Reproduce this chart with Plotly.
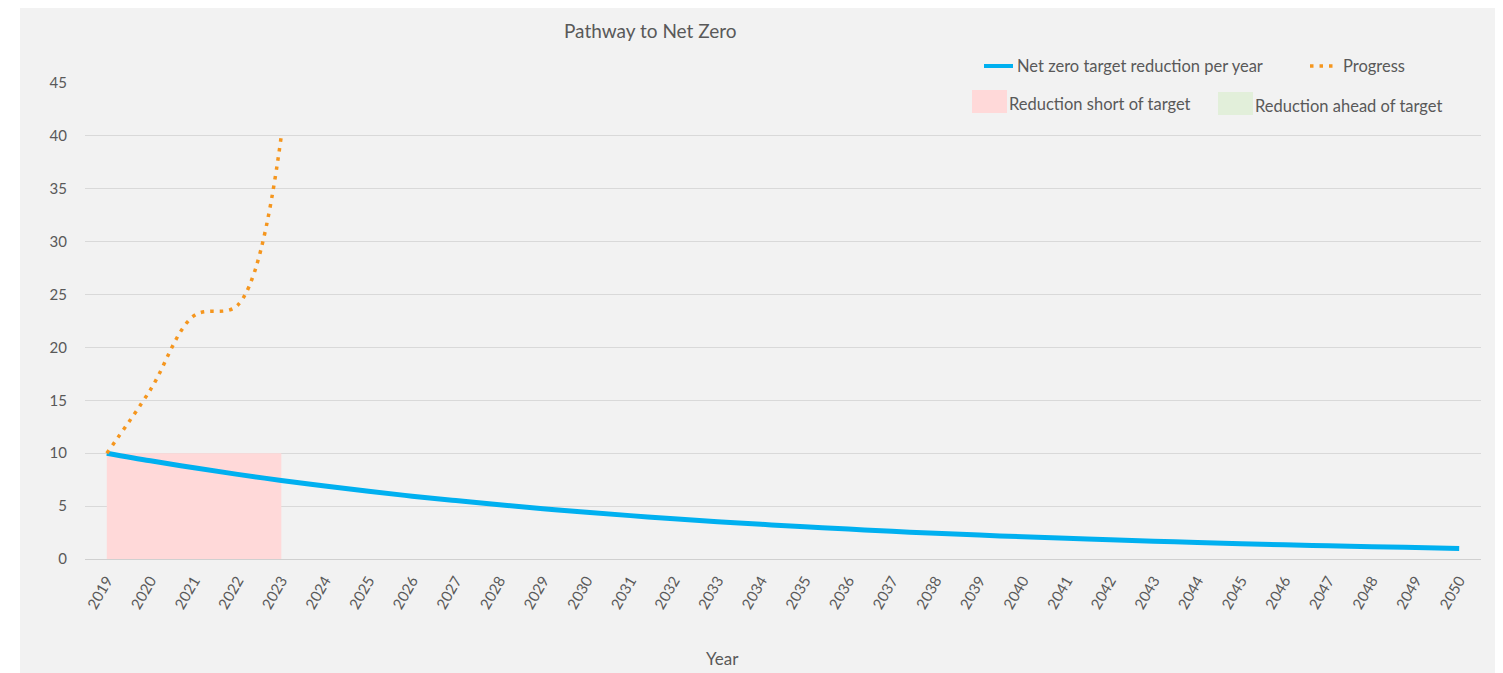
import plotly.graph_objects as go

# ---- data ----
years = list(range(2019, 2051))
target = [10.00, 9.28, 8.62, 8.00, 7.43, 6.90, 6.40, 5.94, 5.52, 5.12, 4.75, 4.41,
          4.10, 3.80, 3.53, 3.28, 3.04, 2.83, 2.62, 2.43, 2.26, 2.10, 1.95, 1.81,
          1.68, 1.56, 1.45, 1.34, 1.25, 1.16, 1.08, 1.00]
progress_years = [2019, 2020, 2021, 2022, 2023]
progress = [10.0, 16.0, 23.0, 24.0, 40.0]
short_years = [2019, 2023]
short_level = 10.0
y_ticks = [0, 5, 10, 15, 20, 25, 30, 35, 40, 45]

title = "Pathway to Net Zero"
x_title = "Year"
leg_target = "Net zero target reduction per year"
leg_progress = "Progress"
leg_short = "Reduction short of target"
leg_ahead = "Reduction ahead of target"

# ---- style ----
OFF = 8                      # page body margin
W, H = 1503 - OFF, 673 - OFF
L, R, T, B = 85 - OFF, 22, 83 - OFF, 114
FONT = "Lato, Open Sans, sans-serif"
GREY_TXT = "#595959"
BLUE = "#00b0f0"
ORANGE = "#f5961e"
PINK = "#ffd9d9"
GREEN = "#e2efda"


def px(x):
    # page pixel x -> paper fraction
    return (x - OFF - L) / (W - L - R)


def py(y):
    # page pixel y -> paper fraction
    return (H - B - (y - OFF)) / (H - T - B)


fig = go.Figure()

# shortfall area
fig.add_trace(go.Scatter(
    x=[short_years[0], short_years[1], short_years[1], short_years[0], short_years[0]],
    y=[0, 0, short_level, short_level, 0],
    fill="toself", fillcolor=PINK, mode="none", hoverinfo="skip", showlegend=False))

fig.add_trace(go.Scatter(
    x=years, y=target, mode="lines", line=dict(color=BLUE, width=5, shape="spline"),
    showlegend=False, name=leg_target))

fig.add_trace(go.Scatter(
    x=progress_years, y=progress, mode="lines",
    line=dict(color=ORANGE, width=3.5, dash="3.5px,6px", shape="spline", smoothing=1.0),
    showlegend=False, name=leg_progress))

shapes = [
    # grey background panel
    dict(type="rect", xref="paper", yref="paper", x0=px(20), x1=px(1496), y0=py(673), y1=py(8),
         fillcolor="#f2f2f2", line_width=0, layer="below"),
    # legend marks
    dict(type="line", xref="paper", yref="paper", x0=px(984), x1=px(1013), y0=py(66), y1=py(66),
         line=dict(color=BLUE, width=4)),
    dict(type="line", xref="paper", yref="paper", x0=px(1310), x1=px(1336), y0=py(66), y1=py(66),
         line=dict(color=ORANGE, width=3.5, dash="3.5px,6px")),
    dict(type="rect", xref="paper", yref="paper", x0=px(972), x1=px(1007), y0=py(113), y1=py(90),
         fillcolor=PINK, line_width=0),
    dict(type="rect", xref="paper", yref="paper", x0=px(1218), x1=px(1253), y0=py(115), y1=py(92),
         fillcolor=GREEN, line_width=0),
]

LEG = 16.5
annotations = [
    dict(text=title, x=px(650), y=py(31), xref="paper", yref="paper", showarrow=False,
         xanchor="center", yanchor="middle", font=dict(family=FONT, size=19, color=GREY_TXT)),
    dict(text=x_title, x=px(722), y=py(658), xref="paper", yref="paper", showarrow=False,
         xanchor="center", yanchor="middle", font=dict(family=FONT, size=17, color=GREY_TXT)),
    dict(text=leg_target, x=px(1015), y=py(66), xref="paper", yref="paper", showarrow=False,
         xanchor="left", yanchor="middle", font=dict(family=FONT, size=LEG, color=GREY_TXT)),
    dict(text=leg_progress, x=px(1341), y=py(66), xref="paper", yref="paper", showarrow=False,
         xanchor="left", yanchor="middle", font=dict(family=FONT, size=LEG, color=GREY_TXT)),
    dict(text=leg_short, x=px(1007), y=py(104), xref="paper", yref="paper", showarrow=False,
         xanchor="left", yanchor="middle", font=dict(family=FONT, size=LEG, color=GREY_TXT)),
    dict(text=leg_ahead, x=px(1253), y=py(106), xref="paper", yref="paper", showarrow=False,
         xanchor="left", yanchor="middle", font=dict(family=FONT, size=LEG, color=GREY_TXT)),
]

fig.update_layout(
    width=W, height=H,
    margin=dict(l=L, r=R, t=T, b=B, pad=0),
    paper_bgcolor="white", plot_bgcolor="rgba(0,0,0,0)",
    font=dict(family=FONT, color=GREY_TXT),
    shapes=shapes, annotations=annotations, showlegend=False,
)
fig.update_xaxes(
    range=[2018.5, 2050.5], tickmode="array", tickvals=years, ticktext=[str(y) for y in years],
    tickangle=-60, showgrid=False, zeroline=False, showline=True, linecolor="#d0d0d0", linewidth=1,
    ticks="", tickfont=dict(family=FONT, size=15, color=GREY_TXT), ticklabelstandoff=6,
)
fig.update_yaxes(
    range=[0, 45], tickmode="array", tickvals=y_ticks, showgrid=True, gridcolor="#d9d9d9",
    gridwidth=1, zeroline=False, showline=False, ticks="",
    tickfont=dict(family=FONT, size=15, color=GREY_TXT), ticklabelstandoff=17,
)

fig.write_html("out.html")
